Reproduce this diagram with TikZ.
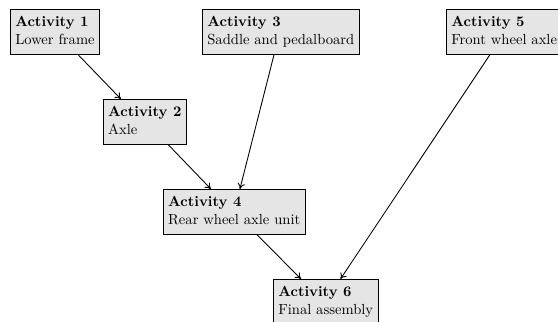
\documentclass[tikz,border=0pt]{standalone}
\usetikzlibrary{arrows.meta}
\tikzset{
  actbox/.style={draw, line width=0.6pt, fill=black!10, anchor=north west, align=left, inner sep=3.33pt},
  link/.style={-{To[length=4pt,width=5pt]}, line width=0.6pt}
}
\newcommand{\actnode}[2]{\textbf{#1}\strut\\#2\strut}
\begin{document}
\begin{tikzpicture}
\useasboundingbox (0,0) rectangle (382.2pt,-220.5pt);
\clip (0,0) rectangle (382.2pt,-220.5pt);
\node[actbox] (b1) at (6.85pt,-6.16pt) {\actnode{Activity 1}{Lower frame}};
\node[actbox] (b2) at (70.5pt,-67.8pt) {\actnode{Activity 2}{Axle}};
\node[actbox] (b3) at (138.4pt,-6.16pt) {\actnode{Activity 3}{Saddle and pedalboard}};
\node[actbox] (b4) at (111.6pt,-129.5pt) {\actnode{Activity 4}{Rear wheel axle unit}};
\node[actbox] (b5) at (305.5pt,-6.16pt) {\actnode{Activity 5}{Front wheel axle}};
\node[actbox] (b6) at (187pt,-191.1pt) {\actnode{Activity 6}{Final assembly}};
\draw[link] ([xshift=46.6pt]b1.south west) -- ([xshift=12.3pt]b2.north west);
\draw[link] ([xshift=44.7pt]b2.south west) -- ([xshift=32.9pt]b4.north west);
\draw[link] ([xshift=49.3pt]b3.south west) -- ([xshift=52.7pt]b4.north west);
\draw[link] ([xshift=64.4pt]b4.south west) -- ([xshift=19.2pt]b6.north west);
\draw[link] ([xshift=30.1pt]b5.south west) -- ([xshift=46.2pt]b6.north west);
\end{tikzpicture}
\end{document}
